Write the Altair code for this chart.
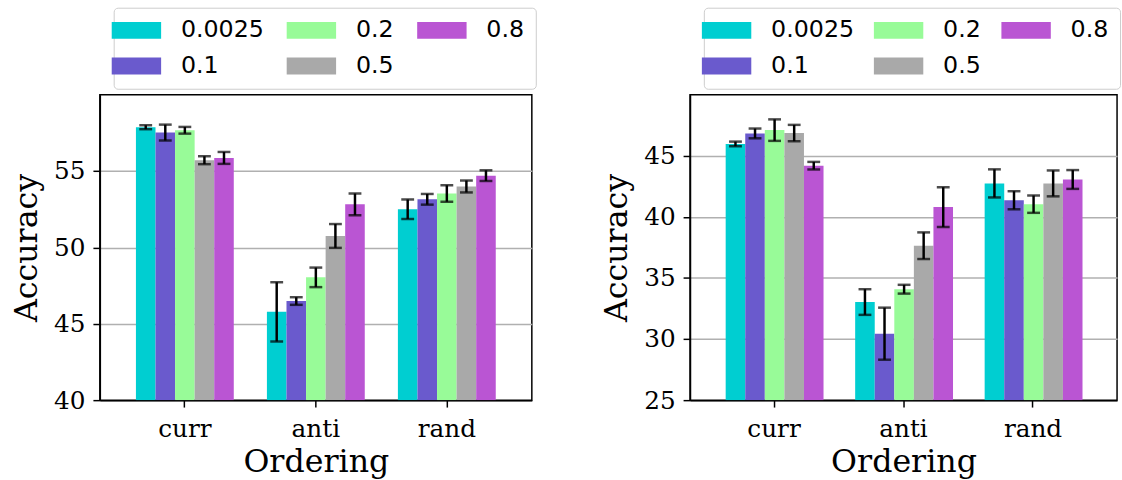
import altair as alt
import pandas as pd

orderings = ["curr", "anti", "rand"]
rates = ["0.0025", "0.1", "0.2", "0.5", "0.8"]
rate_colors = ["#00CED1", "#6A5ACD", "#98FB98", "#A9A9A9", "#BA55D3"]

# left panel: mean accuracy and error per ordering, in rate order
left_curr = [57.87, 57.52, 57.67, 55.71, 55.86]
left_curr_err = [0.13, 0.52, 0.22, 0.26, 0.39]
left_anti = [45.78, 46.49, 48.04, 50.75, 52.82]
left_anti_err = [1.94, 0.25, 0.64, 0.78, 0.71]
left_rand = [52.50, 53.15, 53.53, 53.99, 54.70]
left_rand_err = [0.64, 0.35, 0.54, 0.39, 0.35]

# right panel
right_curr = [45.97, 46.83, 47.10, 46.86, 44.19]
right_curr_err = [0.19, 0.40, 0.88, 0.67, 0.31]
right_anti = [33.03, 30.44, 34.08, 37.64, 40.80]
right_anti_err = [1.05, 2.13, 0.36, 1.09, 1.63]
right_rand = [42.74, 41.36, 41.04, 42.74, 43.06]
right_rand_err = [1.15, 0.74, 0.71, 1.06, 0.77]

left_y_domain = [40, 60]
left_y_ticks = [40, 45, 50, 55]
right_y_domain = [25, 50]
right_y_ticks = [25, 30, 35, 40, 45]


def make_frame(series):
    rows = []
    for ordering, (means, errs) in zip(orderings, series):
        for rate, m, e in zip(rates, means, errs):
            rows.append({"ordering": ordering, "rate": rate, "acc": m, "err": e})
    return pd.DataFrame(rows)


left_df = make_frame([(left_curr, left_curr_err), (left_anti, left_anti_err), (left_rand, left_rand_err)])
right_df = make_frame([(right_curr, right_curr_err), (right_anti, right_anti_err), (right_rand, right_rand_err)])

SERIF = "DejaVu Serif"

# wide flat swatch: nominal symbol size 17px, drawn ~50px wide
SWATCH = "M-2.94,-1H2.94V1H-2.94Z"


def panel(df, y_domain, y_ticks, width, col_pad):
    base = alt.Chart(df).transform_calculate(
        lo="datum.acc - datum.err", hi="datum.acc + datum.err"
    )
    x = alt.X(
        "ordering:N",
        sort=orderings,
        scale=alt.Scale(paddingInner=0.253, paddingOuter=0.2755),
        axis=alt.Axis(title="Ordering", labelAngle=0, grid=False),
    )
    xo = alt.XOffset("rate:N", sort=rates, scale=alt.Scale(paddingInner=0, paddingOuter=0))
    yscale = alt.Scale(domain=y_domain, nice=False, zero=False)
    y = alt.Y(
        "acc:Q",
        scale=yscale,
        axis=alt.Axis(title="Accuracy", values=y_ticks, grid=True),
    )
    bars = base.mark_bar(clip=True).encode(
        x=x,
        xOffset=xo,
        y=y,
        y2=alt.datum(y_domain[0]),
        color=alt.Color(
            "rate:N",
            scale=alt.Scale(domain=rates, range=rate_colors),
            legend=alt.Legend(
                title=None,
                orient="none",
                legendX=14,
                legendY=-88,
                columns=3,
                symbolType=SWATCH,
                symbolSize=289,
                symbolStrokeWidth=0,
                symbolOpacity=1,
                symbolOffset=0,
                labelFont="DejaVu Sans",
                labelFontSize=24,
                labelColor="black",
                labelOffset=33,
                columnPadding=col_pad,
                rowPadding=12,
                padding=11,
                strokeColor="#cccccc",
                cornerRadius=4,
                fillColor="white",
            ),
        ),
    )
    stems = base.mark_rule(color="black", strokeWidth=2.5).encode(
        x=x, xOffset=xo, y=alt.Y("lo:Q", scale=yscale), y2="hi:Q"
    )
    cap_lo = base.mark_tick(color="black", size=13, thickness=2.5, orient="horizontal").encode(
        x=x, xOffset=xo, y=alt.Y("lo:Q", scale=yscale)
    )
    cap_hi = base.mark_tick(color="black", size=13, thickness=2.5, orient="horizontal").encode(
        x=x, xOffset=xo, y=alt.Y("hi:Q", scale=yscale)
    )
    return alt.layer(bars, stems, cap_lo, cap_hi).properties(width=width, height=309)


chart = (
    alt.hconcat(
        panel(left_df, left_y_domain, left_y_ticks, 437, 23),
        panel(right_df, right_y_domain, right_y_ticks, 432, 20),
        spacing=63,
    )
    .resolve_legend(color="independent")
    .resolve_scale(y="independent")
    .properties(padding={"left": 10, "top": 3, "right": 0, "bottom": 0})
    .configure_view(stroke="black", strokeWidth=1.5)
    .configure_axis(
        labelFont=SERIF,
        labelFontSize=25,
        labelColor="black",
        titleFont=SERIF,
        titleFontSize=32,
        titleFontWeight="normal",
        titleColor="black",
        tickColor="black",
        tickSize=7,
        tickWidth=1.5,
        domainColor="black",
        domainWidth=1.5,
        gridColor="#b0b0b0",
        gridWidth=1.5,
        zindex=1,
    )
    .configure_axisY(labelPadding=8, titlePadding=10)
    .configure_axisX(labelPadding=10, titlePadding=5)
)

chart.save("out.html", embed_options={"renderer": "svg", "actions": False})
